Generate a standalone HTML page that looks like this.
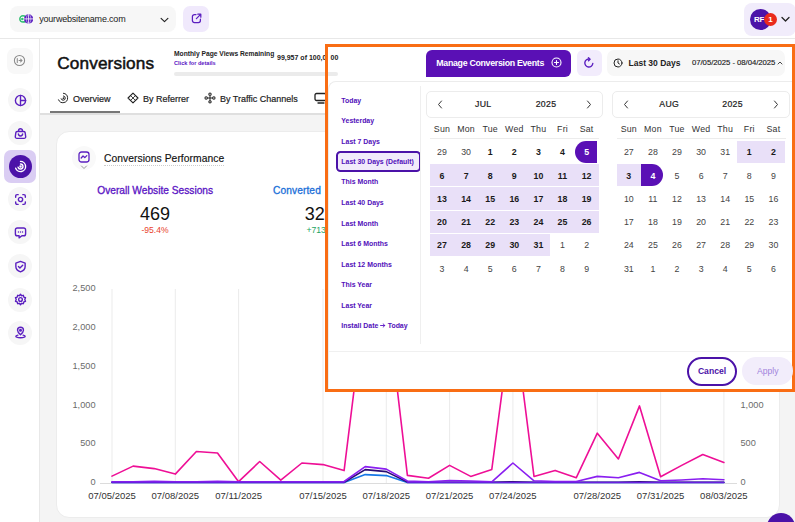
<!DOCTYPE html>
<html>
<head>
<meta charset="utf-8">
<style>
*{box-sizing:border-box;margin:0;padding:0}
html,body{width:795px;height:522px;overflow:hidden;background:#f4f4f4;font-family:"Liberation Sans",sans-serif;color:#111}
.abs{position:absolute}
#topbar{left:0;top:0;width:795px;height:39px;background:#fff;border-bottom:1px solid #e8e8e8}
#site{left:10px;top:6px;width:166px;height:26px;background:#f7f7f7;border-radius:8px}
#site span{position:absolute;left:29.2px;top:8.2px;font-size:9px;color:#222;letter-spacing:-.2px}
#ext{left:183.3px;top:6.3px;width:26px;height:25.5px;background:#f0e9fc;border-radius:7px}
#user{left:744px;top:3px;width:52px;height:33px;background:#f1ecfb;border-radius:8px}
#sidebar{left:0;top:39px;width:40px;height:483px;background:#fff;border-right:1px solid #e8e8e8}
.ico{position:absolute;left:8px;width:24px;height:24px;border-radius:12px;background:#f6f6f6}
.ico svg{position:absolute;left:5.5px;top:5.5px;width:13px;height:13px;fill:none;stroke:#5b1fc0;stroke-width:2;stroke-linecap:round;stroke-linejoin:round}
#header{left:40px;top:39px;width:755px;height:76px;background:#fff;border-bottom:2.5px solid #dfdfdf}
#title{left:57.3px;top:52.7px;font-size:17.2px;color:#111;letter-spacing:.12px;-webkit-text-stroke:.5px #111}
.tab{position:absolute;top:93.5px;font-size:9px;color:#222;white-space:nowrap;-webkit-text-stroke:.2px #222}
.tab svg{position:absolute;top:0px;fill:none;stroke:#222;stroke-width:1.1;stroke-linecap:round;stroke-linejoin:round}
#card{left:56px;top:131px;width:724px;height:387px;background:#fff;border-radius:13px;border:1px solid #ececec}
.ylab{position:absolute;font-size:9.2px;color:#6b6b6b;text-align:right;width:40px;white-space:nowrap}
.yrlab{position:absolute;font-size:9.2px;color:#6b6b6b;text-align:left;white-space:nowrap}
.xlab{position:absolute;font-size:9.5px;color:#333;text-align:center;width:70px;top:490.3px;white-space:nowrap}
#orange{left:325px;top:44px;width:470px;height:348px;border:3px solid #f96d14;background:#fff;overflow:hidden}
#pop{left:328px;top:81px;width:464px;height:308px;background:#fff;border-top:1px solid #ececec;border-left:1px solid #ececec;border-radius:8px 0 0 0}
.preset{position:absolute;left:341.3px;font-size:6.95px;font-weight:bold;color:#5210ba;white-space:nowrap}
.mh{position:absolute;top:91px;height:27px;border:1px solid #ececec;border-radius:5px;background:#fff}
.mt{position:absolute;top:99px;font-size:8.7px;color:#222;letter-spacing:.35px;text-align:center;width:40px;-webkit-text-stroke:.22px #222}
.dw{position:absolute;top:123.5px;width:24px;text-align:center;font-size:8.8px;color:#333;letter-spacing:.2px}
.d{position:absolute;width:24.1px;height:22.4px;text-align:center;font-size:8.8px;line-height:22.5px;color:#444}
.d.h{background:#e9e0f8;font-weight:bold;color:#1a1a1a}
.d.s{background:#5a10b5;color:#fff;font-weight:bold}
.d.b{font-weight:bold;color:#1a1a1a}
.d.sl{border-radius:11px 0 0 11px}
.d.sr{border-radius:0 11px 11px 0}
</style>
</head>
<body>
<div id="topbar" class="abs"></div>
<div id="site" class="abs">
  <svg class="abs" style="left:8.800px;top:7.200px" width="14.500" height="11.800" viewBox="0 0 16 13">
    <circle cx="4.4" cy="6.5" r="3.5" fill="#fff" stroke="#2fbf71" stroke-width="1.6"/>
    <circle cx="3.700" cy="6.5" r="1.400" fill="#2fbf71"/>
    <circle cx="10.600" cy="6.5" r="5.1" fill="#5b1fc0"/>
    <path d="M10.600 1.600v9.800M5.600 6.500h10" stroke="#fff" stroke-width=".9" fill="none"/><ellipse cx="10.600" cy="6.500" rx="2.400" ry="4.800" stroke="#fff" stroke-width=".5" fill="none"/>
  </svg>
  <span>yourwebsitename.com</span>
  <svg class="abs" style="left:150px;top:10.500px" width="9" height="6.300" viewBox="0 0 10 7"><path d="M1.2 1.5 5 5.2 8.8 1.5" fill="none" stroke="#222" stroke-width="1.25" stroke-linecap="round" stroke-linejoin="round"/></svg>
</div>
<div id="ext" class="abs">
  <svg class="abs" style="left:7.500px;top:7.200px" width="11" height="11" viewBox="0 0 11 11"><path d="M5 1.6H3.4A2 2 0 0 0 1.4 3.6v4a2 2 0 0 0 2 2h4a2 2 0 0 0 2-2V6.2M6.8 1.2h3v3M9.6 1.4 5.4 5.6" fill="none" stroke="#5b1fc0" stroke-width="1.25" stroke-linecap="round" stroke-linejoin="round"/></svg>
</div>
<div id="user" class="abs">
  <div class="abs" style="left:6px;top:6px;width:21px;height:21px;border-radius:11px;background:#4b12a8"></div>
  <div class="abs" style="left:10px;top:11.5px;font-size:8px;font-weight:bold;color:#fff;letter-spacing:-.2px">RF</div>
  <div class="abs" style="left:20px;top:10px;width:13px;height:13px;border-radius:7px;background:#ea2a1c"></div>
  <div class="abs" style="left:24.3px;top:12px;font-size:8px;font-weight:bold;color:#fff">1</div>
  <svg class="abs" style="left:37px;top:13px" width="9" height="7" viewBox="0 0 9 7"><path d="M1 1.5 4.5 5 8 1.5" fill="none" stroke="#222" stroke-width="1.3" stroke-linecap="round" stroke-linejoin="round"/></svg>
</div>
<div id="sidebar" class="abs"></div>
<div class="ico" style="top:48px;border-radius:8px;left:7px;width:26px;height:25.500px;background:#f8f8f8;"><svg viewBox="0 0 14 14" style="left:6.400px;top:6.400px;stroke:#8a8a8a;stroke-width:1.1"><circle cx="7" cy="7" r="5.5"/><path d="M4.600 4.800v4.400M6.500 7h3.200M8.200 5.400l1.600 1.600-1.600 1.600"/></svg></div>
<div class="ico" style="top:88px;"><svg viewBox="0 0 14 14" style="stroke:#5b1fc0;stroke-width:1.5"><circle cx="7" cy="7" r="5.5"/><path d="M7 1.5v11M7 7h5.5"/></svg></div>
<div class="ico" style="top:121px;"><svg viewBox="0 0 14 14" style="stroke:#5b1fc0;stroke-width:1.5"><path d="M3.300 4.900h7.400a1.300 1.300 0 0 1 1.300 1.100l.600 4.300a1.800 1.800 0 0 1-1.800 2H3.200a1.800 1.800 0 0 1-1.800-2L2 6a1.300 1.300 0 0 1 1.300-1.100zM4.900 4.900V4a2.100 2.100 0 0 1 4.200 0v.900M4.700 7.400a2.300 2.300 0 0 0 4.600 0"/></svg></div>
<div class="ico" style="top:187px;"><svg viewBox="0 0 14 14" style="stroke:#5b1fc0;stroke-width:1.5"><circle cx="7" cy="7" r="2.3"/><path d="M1.8 4.5V3.3a1.5 1.5 0 0 1 1.5-1.5h1.2M9.5 1.8h1.2a1.5 1.5 0 0 1 1.5 1.5v1.2M12.2 9.5v1.2a1.5 1.5 0 0 1-1.5 1.5H9.5M4.5 12.2H3.3a1.5 1.5 0 0 1-1.5-1.5V9.500"/></svg></div>
<div class="ico" style="top:220px;"><svg viewBox="0 0 14 14" style="stroke:#5b1fc0;stroke-width:1.5"><path d="M3.5 2.2h7a2 2 0 0 1 2 2v4.300a2 2 0 0 1-2 2H8.500L5.500 12.800V10.500H3.500a2 2 0 0 1-2-2V4.200a2 2 0 0 1 2-2z"/><path d="M4.800 6.400h.01M7 6.400h.01M9.200 6.400h.01"/></svg></div>
<div class="ico" style="top:254px;"><svg viewBox="0 0 14 14" style="stroke:#5b1fc0;stroke-width:1.5"><path d="M7 1.500 12 3.300V7c0 3-2.200 4.800-5 5.700C4.200 11.800 2 10 2 7V3.300z"/><path d="M4.800 7l1.600 1.600L9.400 5.600"/></svg></div>
<div class="ico" style="top:287.5px;"><svg viewBox="0 0 14 14" style="stroke:#5b1fc0;stroke-width:1.5"><circle cx="7" cy="7" r="2"/><path d="M7 1.400l1.200 1.500 1.900-.4.500 1.900 1.800.7-.8 1.900.8 1.900-1.800.7-.5 1.900-1.900-.4L7 12.600l-1.200-1.500-1.900.4-.5-1.900-1.800-.700.8-1.900-.8-1.900 1.800-.700.5-1.900 1.900.4z"/></svg></div>
<div class="ico" style="top:320.5px;"><svg viewBox="0 0 14 14" style="stroke:#5b1fc0;stroke-width:1.5"><path d="M7 9.500C5 7.600 3.800 6.300 3.800 4.600a3.200 3.200 0 0 1 6.400 0C10.200 6.300 9 7.600 7 9.500z"/><circle cx="7" cy="4.600" r=".9"/><path d="M4.200 9.800C2.800 10.100 2 10.600 2 11.100c0 .9 2.200 1.500 5 1.500s5-.6 5-1.500c0-.5-.8-1-2.200-1.300"/></svg></div>
<div class="abs" style="left:4px;top:150px;width:32px;height:33px;border-radius:7px;background:#dacdf3"></div>
<div class="abs" style="left:9px;top:155px;width:23px;height:23px;border-radius:12px;background:#4b12a8"></div>
<svg class="abs" style="left:14px;top:160px" width="13" height="13" viewBox="0 0 14 14" fill="none" stroke="#fff" stroke-width="1.5" stroke-linecap="round"><path d="M7 1.500a5.500 5.500 0 1 1-5.200 7.300"/><path d="M7 4.300a2.700 2.700 0 1 1-2.600 3.500"/><circle cx="7" cy="7" r=".6" fill="#fff"/></svg>
<div id="header" class="abs"></div>
<div id="title" class="abs">Conversions</div>
<div class="abs" style="left:174px;top:49.5px;font-size:6.7px;font-weight:bold;color:#222;white-space:nowrap">Monthly Page Views Remaining</div>
<div class="abs" style="left:174px;top:60px;font-size:5.6px;font-weight:bold;color:#5a14c4;white-space:nowrap">Click for details</div>
<div class="abs" style="left:277px;top:54px;font-size:7px;font-weight:bold;color:#222;white-space:nowrap">99,957 of 100,000</div>
<div class="abs" style="left:174px;top:72px;width:170px;height:4px;border-radius:2px;background:#ebebeb"></div>
<div class="tab" style="left:73px">Overview</div>
<svg class="abs" style="left:57px;top:92px" width="12" height="12" viewBox="0 0 14 14" fill="none" stroke="#222" stroke-width="1.150" stroke-linecap="round"><path d="M7.500 1.500a5.500 5.500 0 1 1-5.700 7.600"/><path d="M7.500 4.600a2.500 2.500 0 1 1-2.700 3.300"/><circle cx="7.300" cy="7.200" r=".45" fill="#222"/></svg>
<div class="tab" style="left:143px">By Referrer</div>
<svg class="abs" style="left:127px;top:92px" width="12" height="12" viewBox="0 0 14 14" fill="none" stroke="#222" stroke-width="1.3" stroke-linecap="round" stroke-linejoin="round"><path d="M7 1.200 12.800 7 7 12.800 1.200 7z"/><path d="M4.500 4.500l5 5M9.500 4.500l-5 5" stroke-width="1"/></svg>
<div class="tab" style="left:220px">By Traffic Channels</div>
<svg class="abs" style="left:204px;top:92px" width="12" height="12" viewBox="0 0 14 14" fill="none" stroke="#222" stroke-width="1.200" stroke-linecap="round" stroke-linejoin="round"><circle cx="7" cy="2.500" r="1.400"/><circle cx="7" cy="11.500" r="1.400"/><circle cx="2.500" cy="7" r="1.400"/><circle cx="11.500" cy="7" r="1.400"/><path d="M7 4v6M4 7h6"/></svg>
<svg class="abs" style="left:314px;top:92px" width="14" height="12" viewBox="0 0 14 12" fill="none" stroke="#222" stroke-width="1.300" stroke-linecap="round" stroke-linejoin="round"><rect x="1" y="1.500" width="11" height="7" rx="1.500"/><path d="M4 11h6"/></svg>
<div class="abs" style="left:50px;top:111px;width:70px;height:1.600px;background:#777"></div>
<div id="card" class="abs"></div>
<div class="abs" style="left:72px;top:146px;width:24px;height:24px;border-radius:12px;background:#f9f9f9"></div>
<svg class="abs" style="left:78px;top:151px" width="12" height="12" viewBox="0 0 12 12" fill="none" stroke="#5b1fc0" stroke-width="1.300" stroke-linecap="round" stroke-linejoin="round"><rect x="1" y="1" width="10" height="10" rx="2.500"/><path d="M3.200 7l1.800-2 1.800 1.600L8.800 4.600"/></svg>
<svg class="abs" style="left:80px;top:165px" width="8" height="5" viewBox="0 0 8 5" fill="none" stroke="#999" stroke-width="1" stroke-linecap="round"><path d="M1.500 1 4 3.500 6.500 1"/></svg>
<div class="abs" style="left:104px;top:152.500px;font-size:10.300px;color:#111;white-space:nowrap;border-bottom:1px dotted #ccc;padding-bottom:1px;letter-spacing:.05px;-webkit-text-stroke:.15px #111">Conversions Performance</div>
<div class="abs" style="left:85.200px;top:185px;width:140px;text-align:center;font-size:10.200px;color:#5a14c4;white-space:nowrap;-webkit-text-stroke:.3px #5a14c4">Overall Website Sessions</div>
<div class="abs" style="left:85px;top:204.300px;width:140px;text-align:center;font-size:18px;color:#111">469</div>
<div class="abs" style="left:85px;top:225.200px;width:140px;text-align:center;font-size:8.600px;color:#e8432e">-95.4%</div>
<div class="abs" style="left:273px;top:185px;font-size:10.200px;color:#1a6fd8;white-space:nowrap;letter-spacing:.1px;-webkit-text-stroke:.3px #1a6fd8">Converted</div>
<div class="abs" style="left:304.700px;top:204.300px;font-size:18px;color:#111">322</div>
<div class="abs" style="left:306.500px;top:225.200px;font-size:8.600px;color:#1aa362">+713%</div>
<svg class="abs" style="left:0;top:0" width="795" height="522" viewBox="0 0 795 522">
<line x1="112.0" y1="289" x2="112.0" y2="483" stroke="#ebebeb" stroke-width="1"/>
<line x1="175.3" y1="289" x2="175.3" y2="483" stroke="#ebebeb" stroke-width="1"/>
<line x1="238.6" y1="289" x2="238.6" y2="483" stroke="#ebebeb" stroke-width="1"/>
<line x1="323.0" y1="289" x2="323.0" y2="483" stroke="#ebebeb" stroke-width="1"/>
<line x1="386.3" y1="289" x2="386.3" y2="483" stroke="#ebebeb" stroke-width="1"/>
<line x1="449.6" y1="289" x2="449.6" y2="483" stroke="#ebebeb" stroke-width="1"/>
<line x1="512.9" y1="289" x2="512.9" y2="483" stroke="#ebebeb" stroke-width="1"/>
<line x1="597.3" y1="289" x2="597.3" y2="483" stroke="#ebebeb" stroke-width="1"/>
<line x1="660.6" y1="289" x2="660.6" y2="483" stroke="#ebebeb" stroke-width="1"/>
<line x1="723.9" y1="289" x2="723.9" y2="483" stroke="#ebebeb" stroke-width="1"/>
<line x1="100" y1="483.500" x2="737" y2="483.500" stroke="#dcdcdc" stroke-width="1"/>
<polyline points="112.0,476.1 133.1,466.1 154.2,468.6 175.3,474.1 196.4,451.5 217.5,453.0 238.6,481.7 259.7,461.5 280.8,480.2 301.9,463.0 323.0,464.6 344.1,470.6 365.2,300.0 386.3,296.0 407.4,475.4 428.5,478.3 449.6,465.4 470.7,476.4 491.8,469.4 512.9,310.0 534.0,476.4 555.1,470.4 576.2,477.8 597.3,433.2 618.4,459.0 639.5,405.9 660.6,476.8 681.7,465.4 702.8,454.5 723.9,462.5" fill="none" stroke="#ee0f96" stroke-width="1.6" stroke-linejoin="round" stroke-linecap="round"/>
<polyline points="112.0,482.5 133.1,482.5 154.2,482.5 175.3,482.5 196.4,482.5 217.5,482.5 238.6,482.5 259.7,482.5 280.8,482.5 301.9,482.5 323.0,482.5 344.1,482.5 365.2,474.6 386.3,475.6 407.4,482.5 428.5,482.5 449.6,482.5 470.7,482.5 491.8,482.5 512.9,482.5 534.0,482.5 555.1,482.5 576.2,482.5 597.3,482.5 618.4,482.5 639.5,482.5 660.6,482.5 681.7,482.5 702.8,482.5 723.9,482.5" fill="none" stroke="#1677e6" stroke-width="1.6" stroke-linejoin="round" stroke-linecap="round"/>
<polyline points="112.0,482.3 133.1,482.3 154.2,482.3 175.3,482.3 196.4,482.3 217.5,482.3 238.6,482.3 259.7,482.3 280.8,482.3 301.9,482.3 323.0,482.3 344.1,482.3 365.2,469.6 386.3,471.6 407.4,482.0 428.5,482.3 449.6,482.3 470.7,482.3 491.8,482.3 512.9,481.8 534.0,482.3 555.1,482.3 576.2,482.3 597.3,482.3 618.4,482.3 639.5,481.8 660.6,482.3 681.7,482.3 702.8,482.3 723.9,482.3" fill="none" stroke="#2a0d73" stroke-width="1.6" stroke-linejoin="round" stroke-linecap="round"/>
<polyline points="112.0,481.7 133.1,481.7 154.2,481.2 175.3,481.7 196.4,481.7 217.5,481.2 238.6,481.7 259.7,481.7 280.8,481.7 301.9,481.7 323.0,481.7 344.1,481.5 365.2,466.6 386.3,469.1 407.4,481.0 428.5,481.7 449.6,480.5 470.7,481.0 491.8,481.8 512.9,463.0 534.0,480.8 555.1,481.5 576.2,481.5 597.3,476.4 618.4,477.8 639.5,472.4 660.6,480.8 681.7,480.0 702.8,478.8 723.9,479.8" fill="none" stroke="#8a1ff0" stroke-width="1.6" stroke-linejoin="round" stroke-linecap="round"/>
<polyline points="112.0,482.6 133.1,482.6 154.2,482.6 175.3,482.6 196.4,482.6 217.5,482.6 238.6,482.6 259.7,482.6 280.8,482.6 301.9,482.6 323.0,482.6 344.1,482.6" fill="none" stroke="#6a1fe0" stroke-width="1.5" stroke-linejoin="round" stroke-linecap="round"/>
<polyline points="407.4,482.6 428.5,482.6 449.6,482.6 470.7,482.6 491.8,482.6 512.9,482.6 534.0,482.6 555.1,482.6 576.2,482.6 597.3,482.6 618.4,482.6 639.5,482.6 660.6,482.6 681.7,482.6 702.8,482.6 723.9,482.6" fill="none" stroke="#6a1fe0" stroke-width="1.5" stroke-linejoin="round" stroke-linecap="round"/>
</svg>
<div class="ylab" style="left:55.500px;top:282.7px">2,500</div>
<div class="ylab" style="left:55.500px;top:321.7px">2,000</div>
<div class="ylab" style="left:55.500px;top:360.7px">1,500</div>
<div class="ylab" style="left:55.500px;top:399.7px">1,000</div>
<div class="ylab" style="left:55.500px;top:438.2px">500</div>
<div class="ylab" style="left:55.500px;top:476.7px">0</div>
<div class="yrlab" style="left:740.500px;top:399.7px">1,000</div>
<div class="yrlab" style="left:740.500px;top:438.2px">500</div>
<div class="yrlab" style="left:740.500px;top:476.7px">0</div>
<div class="xlab" style="left:77.0px">07/05/2025</div>
<div class="xlab" style="left:140.3px">07/08/2025</div>
<div class="xlab" style="left:203.6px">07/11/2025</div>
<div class="xlab" style="left:288.0px">07/15/2025</div>
<div class="xlab" style="left:351.3px">07/18/2025</div>
<div class="xlab" style="left:414.6px">07/21/2025</div>
<div class="xlab" style="left:477.9px">07/24/2025</div>
<div class="xlab" style="left:562.3px">07/28/2025</div>
<div class="xlab" style="left:625.6px">07/31/2025</div>
<div class="xlab" style="left:688.9px">08/03/2025</div>
<div id="orange" class="abs"></div>
<div class="abs" style="left:426px;top:49.500px;width:145px;height:27px;border-radius:6px 6px 6px 0;background:#5a10b5"></div>
<div class="abs" style="left:436.300px;top:58.300px;font-size:8.800px;font-weight:bold;color:#fff;white-space:nowrap;letter-spacing:-.3px">Manage Conversion Events</div>
<svg class="abs" style="left:551px;top:57px" width="11" height="11" viewBox="0 0 11 11" fill="none" stroke="#fff" stroke-width="1.100" stroke-linecap="round"><circle cx="5.500" cy="5.500" r="4.500"/><path d="M5.500 3.500v4M3.500 5.500h4"/></svg>
<div class="abs" style="left:576.500px;top:49.500px;width:25px;height:26px;border-radius:6px;background:#f2ecfc"></div>
<svg class="abs" style="left:583px;top:57px" width="12" height="12" viewBox="0 0 12 12" fill="none" stroke="#5b1fc0" stroke-width="1.400" stroke-linecap="round" stroke-linejoin="round"><path d="M9.800 6.500a4 4 0 1 1-3.300-4.400"/><path d="M5.500 .8l1.500 1.400L5.500 3.800"/></svg>
<div class="abs" style="left:607px;top:50px;width:178px;height:26px;border-radius:7px;background:#f7f7f7"></div>
<svg class="abs" style="left:613px;top:57.500px" width="10" height="10" viewBox="0 0 10 10" fill="none" stroke="#222" stroke-width="1" stroke-linecap="round" stroke-linejoin="round"><circle cx="5" cy="5" r="4"/><path d="M5 2.800V5l1.500 1"/></svg>
<div class="abs" style="left:628.500px;top:57.500px;font-size:8.500px;font-weight:bold;color:#222;white-space:nowrap">Last 30 Days</div>
<div class="abs" style="left:692px;top:58.200px;font-size:7.750px;color:#222;white-space:nowrap;letter-spacing:-.05px;-webkit-text-stroke:.15px #222">07/05/2025 - 08/04/2025</div>
<svg class="abs" style="left:776.500px;top:60.500px" width="6" height="4" viewBox="0 0 6 4" fill="none" stroke="#333" stroke-width=".9" stroke-linecap="round"><path d="M1 3 3 1l2 2"/></svg>
<div class="abs" style="left:328px;top:72px;width:10px;height:4px;border-radius:0 2px 2px 0;background:#ebebeb"></div>
<div class="abs" style="left:330.500px;top:54px;font-size:7px;font-weight:bold;color:#222;white-space:nowrap">00</div>
<div id="pop" class="abs"></div>
<div class="abs" style="left:335.500px;top:151px;width:85px;height:21px;border:2px solid #4b12a8;border-radius:4.500px;background:#f1ebfb"></div>
<div class="preset" style="top:96.6px">Today</div>
<div class="preset" style="top:116.5px">Yesterday</div>
<div class="preset" style="top:137.6px">Last 7 Days</div>
<div class="preset" style="top:157.9px">Last 30 Days (Default)</div>
<div class="preset" style="top:177.8px">This Month</div>
<div class="preset" style="top:198.5px">Last 40 Days</div>
<div class="preset" style="top:219.6px">Last Month</div>
<div class="preset" style="top:239.7px">Last 6 Months</div>
<div class="preset" style="top:260.9px">Last 12 Months</div>
<div class="preset" style="top:280.5px">This Year</div>
<div class="preset" style="top:301.7px">Last Year</div>
<div class="preset" style="top:321.7px">Install Date <svg width="5.500" height="5" viewBox="0 0 6 5" style="vertical-align:0px" fill="none" stroke="#5a14c4" stroke-width="1" stroke-linecap="round" stroke-linejoin="round"><path d="M.600 2.500h4.600M3.400 .700l1.900 1.800-1.900 1.800"/></svg> Today</div>
<div class="abs" style="left:420px;top:86px;width:1px;height:258px;background:#efefef"></div>
<div class="mh" style="left:426px;width:177px"></div>
<svg class="abs" style="left:437px;top:100px" width="6" height="9" viewBox="0 0 6 9" fill="none" stroke="#333" stroke-width="1" stroke-linecap="round" stroke-linejoin="round"><path d="M4.500 1 1.500 4.500l3 3.500"/></svg>
<svg class="abs" style="left:586px;top:100px" width="6" height="9" viewBox="0 0 6 9" fill="none" stroke="#333" stroke-width="1" stroke-linecap="round" stroke-linejoin="round"><path d="M1.500 1l3 3.500-3 3.500"/></svg>
<div class="mt" style="left:463.3px">JUL</div>
<div class="mt" style="left:526px">2025</div>
<div class="dw" style="left:430.0px">Sun</div>
<div class="dw" style="left:454.1px">Mon</div>
<div class="dw" style="left:478.2px">Tue</div>
<div class="dw" style="left:502.3px">Wed</div>
<div class="dw" style="left:526.4px">Thu</div>
<div class="dw" style="left:550.5px">Fri</div>
<div class="dw" style="left:574.6px">Sat</div>
<div class="abs" style="left:430.0px;top:137.500px;width:169px;height:1px;background:#ececec"></div>
<div class="d " style="left:429.95px;top:140.5px">29</div>
<div class="d " style="left:454.05px;top:140.5px">30</div>
<div class="d b" style="left:478.15px;top:140.5px">1</div>
<div class="d b" style="left:502.25px;top:140.5px">2</div>
<div class="d b" style="left:526.35px;top:140.5px">3</div>
<div class="d b" style="left:550.45px;top:140.5px">4</div>
<div class="abs" style="left:574.55px;top:140.5px;width:22.300px;height:22.600px;background:#5a10b5;border-radius:11px 0 0 11px"></div>
<div class="d" style="left:574.55px;top:140.5px;color:#fff;font-weight:bold">5</div>
<div class="d h" style="left:429.95px;top:163.9px;line-height:24.500px">6</div>
<div class="d h" style="left:454.05px;top:163.9px;line-height:24.500px">7</div>
<div class="d h" style="left:478.15px;top:163.9px;line-height:24.500px">8</div>
<div class="d h" style="left:502.25px;top:163.9px;line-height:24.500px">9</div>
<div class="d h" style="left:526.35px;top:163.9px;line-height:24.500px">10</div>
<div class="d h" style="left:550.45px;top:163.9px;line-height:24.500px">11</div>
<div class="d h" style="left:574.55px;top:163.9px;line-height:24.500px">12</div>
<div class="d h" style="left:429.95px;top:187.3px;line-height:24.500px">13</div>
<div class="d h" style="left:454.05px;top:187.3px;line-height:24.500px">14</div>
<div class="d h" style="left:478.15px;top:187.3px;line-height:24.500px">15</div>
<div class="d h" style="left:502.25px;top:187.3px;line-height:24.500px">16</div>
<div class="d h" style="left:526.35px;top:187.3px;line-height:24.500px">17</div>
<div class="d h" style="left:550.45px;top:187.3px;line-height:24.500px">18</div>
<div class="d h" style="left:574.55px;top:187.3px;line-height:24.500px">19</div>
<div class="d h" style="left:429.95px;top:210.7px">20</div>
<div class="d h" style="left:454.05px;top:210.7px">21</div>
<div class="d h" style="left:478.15px;top:210.7px">22</div>
<div class="d h" style="left:502.25px;top:210.7px">23</div>
<div class="d h" style="left:526.35px;top:210.7px">24</div>
<div class="d h" style="left:550.45px;top:210.7px">25</div>
<div class="d h" style="left:574.55px;top:210.7px">26</div>
<div class="d h" style="left:429.95px;top:234.1px">27</div>
<div class="d h" style="left:454.05px;top:234.1px">28</div>
<div class="d h" style="left:478.15px;top:234.1px">29</div>
<div class="d h" style="left:502.25px;top:234.1px">30</div>
<div class="d h" style="left:526.35px;top:234.1px">31</div>
<div class="d " style="left:550.45px;top:234.1px">1</div>
<div class="d " style="left:574.55px;top:234.1px">2</div>
<div class="d " style="left:429.95px;top:257.5px">3</div>
<div class="d " style="left:454.05px;top:257.5px">4</div>
<div class="d " style="left:478.15px;top:257.5px">5</div>
<div class="d " style="left:502.25px;top:257.5px">6</div>
<div class="d " style="left:526.35px;top:257.5px">7</div>
<div class="d " style="left:550.45px;top:257.5px">8</div>
<div class="d " style="left:574.55px;top:257.5px">9</div>
<div class="mh" style="left:612.3px;width:177.5px"></div>
<svg class="abs" style="left:623.3px;top:100px" width="6" height="9" viewBox="0 0 6 9" fill="none" stroke="#333" stroke-width="1" stroke-linecap="round" stroke-linejoin="round"><path d="M4.500 1 1.500 4.500l3 3.500"/></svg>
<svg class="abs" style="left:772.8px;top:100px" width="6" height="9" viewBox="0 0 6 9" fill="none" stroke="#333" stroke-width="1" stroke-linecap="round" stroke-linejoin="round"><path d="M1.500 1l3 3.500-3 3.500"/></svg>
<div class="mt" style="left:649.3px">AUG</div>
<div class="mt" style="left:712.5999999999999px">2025</div>
<div class="dw" style="left:616.8px">Sun</div>
<div class="dw" style="left:640.9px">Mon</div>
<div class="dw" style="left:665.0px">Tue</div>
<div class="dw" style="left:689.1px">Wed</div>
<div class="dw" style="left:713.2px">Thu</div>
<div class="dw" style="left:737.3px">Fri</div>
<div class="dw" style="left:761.4px">Sat</div>
<div class="abs" style="left:616.8px;top:137.500px;width:169px;height:1px;background:#ececec"></div>
<div class="d " style="left:616.75px;top:140.5px">27</div>
<div class="d " style="left:640.85px;top:140.5px">28</div>
<div class="d " style="left:664.95px;top:140.5px">29</div>
<div class="d " style="left:689.05px;top:140.5px">30</div>
<div class="d " style="left:713.15px;top:140.5px">31</div>
<div class="d h" style="left:737.25px;top:140.5px">1</div>
<div class="d h" style="left:761.35px;top:140.5px">2</div>
<div class="d h" style="left:616.75px;top:163.9px;line-height:24.500px">3</div>
<div class="abs" style="left:640.85px;top:163.9px;width:22.300px;height:22.600px;background:#5a10b5;border-radius:0 11px 11px 0"></div>
<div class="d" style="left:640.85px;top:163.9px;color:#fff;font-weight:bold;line-height:24.500px">4</div>
<div class="d " style="left:664.95px;top:163.9px;line-height:24.500px">5</div>
<div class="d " style="left:689.05px;top:163.9px;line-height:24.500px">6</div>
<div class="d " style="left:713.15px;top:163.9px;line-height:24.500px">7</div>
<div class="d " style="left:737.25px;top:163.9px;line-height:24.500px">8</div>
<div class="d " style="left:761.35px;top:163.9px;line-height:24.500px">9</div>
<div class="d " style="left:616.75px;top:187.3px;line-height:24.500px">10</div>
<div class="d " style="left:640.85px;top:187.3px;line-height:24.500px">11</div>
<div class="d " style="left:664.95px;top:187.3px;line-height:24.500px">12</div>
<div class="d " style="left:689.05px;top:187.3px;line-height:24.500px">13</div>
<div class="d " style="left:713.15px;top:187.3px;line-height:24.500px">14</div>
<div class="d " style="left:737.25px;top:187.3px;line-height:24.500px">15</div>
<div class="d " style="left:761.35px;top:187.3px;line-height:24.500px">16</div>
<div class="d " style="left:616.75px;top:210.7px">17</div>
<div class="d " style="left:640.85px;top:210.7px">18</div>
<div class="d " style="left:664.95px;top:210.7px">19</div>
<div class="d " style="left:689.05px;top:210.7px">20</div>
<div class="d " style="left:713.15px;top:210.7px">21</div>
<div class="d " style="left:737.25px;top:210.7px">22</div>
<div class="d " style="left:761.35px;top:210.7px">23</div>
<div class="d " style="left:616.75px;top:234.1px">24</div>
<div class="d " style="left:640.85px;top:234.1px">25</div>
<div class="d " style="left:664.95px;top:234.1px">26</div>
<div class="d " style="left:689.05px;top:234.1px">27</div>
<div class="d " style="left:713.15px;top:234.1px">28</div>
<div class="d " style="left:737.25px;top:234.1px">29</div>
<div class="d " style="left:761.35px;top:234.1px">30</div>
<div class="d " style="left:616.75px;top:257.5px">31</div>
<div class="d " style="left:640.85px;top:257.5px">1</div>
<div class="d " style="left:664.95px;top:257.5px">2</div>
<div class="d " style="left:689.05px;top:257.5px">3</div>
<div class="d " style="left:713.15px;top:257.5px">4</div>
<div class="d " style="left:737.25px;top:257.5px">5</div>
<div class="d " style="left:761.35px;top:257.5px">6</div>
<div class="abs" style="left:329px;top:351px;width:463px;height:1px;background:#f0f0f0"></div>
<div class="abs" style="left:686.5px;top:356.5px;width:50.5px;height:29px;border-radius:14.5px;border:2px solid #4b12a8;background:#fff"></div>
<div class="abs" style="left:687px;top:366px;width:50px;text-align:center;font-size:8.600px;font-weight:bold;color:#4b12a8">Cancel</div>
<div class="abs" style="left:742px;top:357px;width:51px;height:28px;border-radius:14px;background:#f2edfb"></div>
<div class="abs" style="left:757px;top:366px;font-size:8.600px;color:#a184dc">Apply</div>
<div class="abs" style="left:767px;top:513px;width:28px;height:28px;border-radius:14px;background:#4b12a8"></div>
</body>
</html>
